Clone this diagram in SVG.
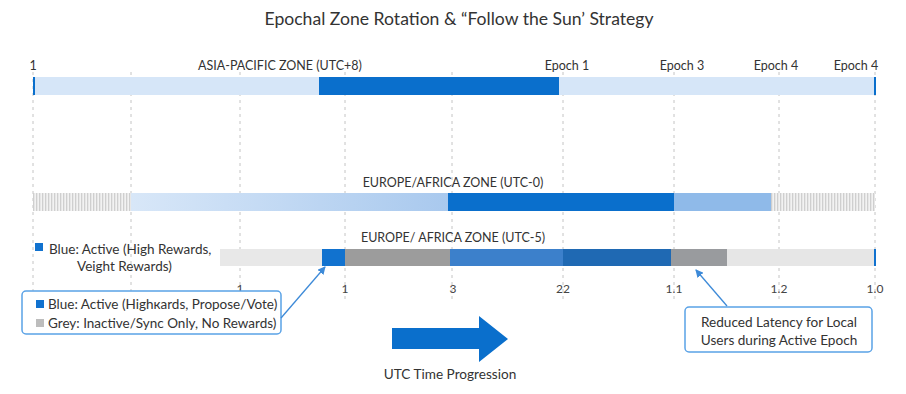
<svg xmlns="http://www.w3.org/2000/svg" width="906" height="394" viewBox="0 0 906 394">
<style>
text{font-family:Lato,"Open Sans","Liberation Sans",sans-serif;fill:#333}
.t{font-size:17.6px}
.lbl{font-size:12.5px}
.cl{font-size:13.6px}
.tick{font-size:12px;text-anchor:middle;fill:#444}
.grid{stroke:#c4c4c4;stroke-width:1;stroke-dasharray:3 4}
.box{fill:#fff;stroke:#5aa2e6;stroke-width:1.5}
.conn{stroke:#3d8ad8;stroke-width:1.3;fill:none}
.leg{font-size:13.5px}
</style>
<defs>
<pattern id="hatch" width="3" height="4" patternUnits="userSpaceOnUse">
<rect width="3" height="4" fill="#f2f2f2"/>
<rect width="1.3" height="4" fill="#cfcfcf"/>
</pattern>
<linearGradient id="g2" x1="0" x2="1" y1="0" y2="0">
<stop offset="0" stop-color="#d8e7f8"/>
<stop offset="1" stop-color="#a9c9ee"/>
</linearGradient>
<marker id="ah" markerWidth="8" markerHeight="8" refX="7" refY="4" orient="auto" markerUnits="userSpaceOnUse">
<path d="M0,0 L8,4 L0,8 Z" fill="#3d8ad8"/>
</marker>
</defs>
<rect width="906" height="394" fill="#fff"/>
<text class="t" x="459" y="25" text-anchor="middle">Epochal Zone Rotation &amp; “Follow the Sun’ Strategy</text>

<g id="grid">
<line class="grid" x1="33" y1="72" x2="33" y2="300"/>
<line class="grid" x1="131" y1="72" x2="131" y2="300"/>
<line class="grid" x1="240" y1="72" x2="240" y2="300"/>
<line class="grid" x1="345" y1="72" x2="345" y2="300"/>
<line class="grid" x1="452" y1="72" x2="452" y2="300"/>
<line class="grid" x1="563" y1="72" x2="563" y2="300"/>
<line class="grid" x1="674" y1="72" x2="674" y2="300"/>
<line class="grid" x1="779" y1="72" x2="779" y2="300"/>
<line class="grid" x1="875" y1="72" x2="875" y2="300"/>
</g>

<g id="row1">
<rect x="33" y="77" width="842" height="18" fill="#d6e6f8"/>
<rect x="319" y="77" width="240" height="18" fill="#0a6fcc"/>
<rect x="33" y="77" width="2" height="18" fill="#0a6fcc"/>
<rect x="874" y="77" width="2" height="18" fill="#0a6fcc"/>
<text class="lbl" x="33" y="70" text-anchor="middle">1</text>
<text class="lbl" x="280" y="70" text-anchor="middle">ASIA-PACIFIC ZONE (UTC+8)</text>
<text class="lbl" x="567" y="70" text-anchor="middle">Epoch 1</text>
<text class="lbl" x="682" y="70" text-anchor="middle">Epoch 3</text>
<text class="lbl" x="776" y="70" text-anchor="middle">Epoch 4</text>
<text class="lbl" x="856" y="70" text-anchor="middle">Epoch 4</text>
</g>

<g id="row2">
<rect x="33" y="193" width="98" height="18" fill="url(#hatch)"/>
<rect x="131" y="193" width="317" height="18" fill="url(#g2)"/>
<rect x="448" y="193" width="226" height="18" fill="#0a6fcc"/>
<rect x="674" y="193" width="97" height="18" fill="#8fbae9"/>
<rect x="771" y="193" width="104" height="18" fill="url(#hatch)"/>
<text class="lbl" x="453" y="187" text-anchor="middle">EUROPE/AFRICA ZONE (UTC-0)</text>
</g>

<g id="row3">
<rect x="220" y="249" width="102" height="17" fill="#e8e8e8"/>
<rect x="322" y="249" width="23" height="17" fill="#1172cf"/>
<rect x="345" y="249" width="105" height="17" fill="#9c9c9c"/>
<rect x="450" y="249" width="113" height="17" fill="#3c80cb"/>
<rect x="563" y="249" width="108" height="17" fill="#1f69b3"/>
<rect x="671" y="249" width="56" height="17" fill="#999b9e"/>
<rect x="727" y="249" width="148" height="17" fill="#e6e6e6"/>
<rect x="874" y="249" width="2" height="17" fill="#1172cf"/>
<text class="lbl" x="453" y="242" text-anchor="middle">EUROPE/ AFRICA ZONE (UTC-5)</text>
<text class="tick" x="240" y="293">1</text>
<text class="tick" x="345" y="293">1</text>
<text class="tick" x="453" y="293">3</text>
<text class="tick" x="563" y="293">22</text>
<text class="tick" x="674" y="293">1.1</text>
<text class="tick" x="779" y="293">1.2</text>
<text class="tick" x="875" y="293">1.0</text>
</g>

<g id="legend-top">
<rect x="35" y="243" width="8" height="8" fill="#1172cf"/>
<text class="leg" x="49" y="254">Blue: Active (High Rewards,</text>
<text class="leg" x="77" y="271">Veight Rewards)</text>
</g>

<g id="legend-box">
<rect class="box" x="22" y="291" width="259" height="43" rx="4"/>
<rect x="36" y="300" width="8" height="8" fill="#1172cf"/>
<text class="leg" x="48" y="309">Blue: Active (Highкards, Propose/Vote)</text>
<rect x="36" y="319" width="8" height="8" fill="#bdbdbd"/>
<text class="leg" x="48" y="328">Grey:  Inactive/Sync Only, No Rewards)</text>
</g>

<g id="callout">
<rect class="box" x="685" y="307" width="187" height="45" rx="4"/>
<text class="cl" x="779" y="327" text-anchor="middle">Reduced Latency for Local</text>
<text class="cl" x="779" y="345" text-anchor="middle">Users during Active Epoch</text>
</g>

<g id="time-arrow">
<path d="M392,328 L479,328 L479,316 L508,339 L479,362 L479,349 L392,349 Z" fill="#0a6fcc"/>
<text class="cl" x="450" y="379" text-anchor="middle">UTC Time Progression</text>
</g>

<g id="connectors">
<line class="conn" x1="281" y1="318" x2="325" y2="267" marker-end="url(#ah)"/>
<line class="conn" x1="727" y1="306" x2="696" y2="270" marker-end="url(#ah)"/>
</g>
</svg>
